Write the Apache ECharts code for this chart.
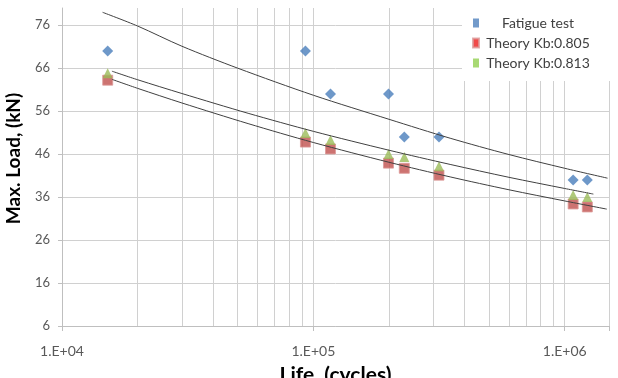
<!DOCTYPE html>
<html>
<head>
<meta charset="utf-8">
<script src="https://cdn.jsdelivr.net/npm/echarts@6/dist/echarts.min.js"></script>
<style>
  html, body { margin: 0; padding: 0; background: #fff; }
  #chart { width: 618px; height: 378px; }
</style>
</head>
<body>
<div id="chart"></div>
<script>
// test points (cycles, kN)
const lifeCycles = [15200, 93000, 117000, 199000, 230000, 316000, 1080000, 1230000]
const fatigueTest = [70, 70, 60, 60, 50, 50, 40, 40]
const theory805 = [63.2, 48.8, 47.2, 43.9, 42.7, 41.1, 34.4, 33.7]
const theory813 = [64.8, 50.9, 49.3, 46.0, 45.3, 43.2, 36.5, 36.0]

// trend lines
const trendFatigueN = [14500, 20000, 30000, 50000, 100000, 200000, 350000, 600000, 1000000, 1480000]
const trendFatigue = [79.0, 75.8, 71.1, 66.0, 59.7, 54.1, 49.7, 45.9, 42.7, 40.4]
const trend813N = [15800, 20000, 30000, 55000, 100000, 200000, 350000, 600000, 1000000, 1300000]
const trend813 = [65.3, 63.3, 60.1, 55.5, 51.3, 46.9, 43.6, 40.6, 38.0, 36.7]
const trend805N = [15800, 20000, 30000, 55000, 100000, 200000, 350000, 600000, 1000000, 1470000]
const trend805 = [63.4, 61.3, 57.9, 53.1, 48.7, 44.1, 40.7, 37.7, 35.1, 33.2]

// minor log gridlines
const minorLines = [20000, 30000, 40000, 50000, 60000, 70000, 80000, 90000,
  200000, 300000, 400000, 500000, 600000, 700000, 800000, 900000]

const yMin = 6
const yMax = 80
const yStep = 10

const pairs = (xs, ys) => xs.map((x, i) => [x, ys[i]])
const gridGrey = '#d0d0d0'

const myChart = echarts.init(document.getElementById('chart'))

const option = {
  animation: false,
  textStyle: { fontFamily: 'Lato' },
  grid: { left: 62, right: 9, top: 8, bottom: 52, outerBoundsMode: 'none', containLabel: false },
  legend: {
    orient: 'vertical',
    left: 462,
    top: 0,
    z: 10,
    padding: [16, 26, 11, 10],
    backgroundColor: '#fff',
    itemWidth: 6,
    itemHeight: 9,
    itemGap: 6,
    icon: 'rect',
    formatter: name => '{a|' + name + '}',
    textStyle: {
      rich: {
        a: { width: 108, align: 'center', fontSize: 14, lineHeight: 14, color: '#404040', fontFamily: 'Lato' }
      }
    },
    data: [
      { name: 'Fatigue test', itemStyle: { color: '#4f81bd' } },
      { name: 'Theory Kb:0.805', itemStyle: { color: '#ee1c1c' } },
      { name: 'Theory Kb:0.813', itemStyle: { color: '#92d050' } }
    ]
  },
  xAxis: {
    type: 'log',
    logBase: 10,
    min: 10000,
    max: 1500000,
    name: 'Life, (cycles)',
    nameLocation: 'middle',
    nameGap: 39,
    nameTextStyle: { fontSize: 21, fontWeight: 'bold', color: '#000', fontFamily: 'Lato' },
    axisLine: { lineStyle: { color: '#bfbfbf' } },
    axisTick: { length: 5, lineStyle: { color: '#bfbfbf' } },
    axisLabel: {
      margin: 18,
      fontSize: 14,
      color: '#595959',
      formatter: v => {
        const e = Math.log10(v)
        if (Math.abs(e - Math.round(e)) > 1e-6) return ''
        return '1.E+' + String(Math.round(e)).padStart(2, '0')
      }
    },
    splitLine: { show: true, lineStyle: { color: gridGrey } }
  },
  yAxis: {
    type: 'value',
    min: yMin,
    max: yMax,
    interval: yStep,
    name: 'Max. Load, (kN)',
    nameLocation: 'middle',
    nameGap: 39,
    nameTextStyle: { fontSize: 19, fontWeight: 'bold', color: '#000', fontFamily: 'Lato', padding: [0, 0, 0, 17] },
    axisLine: { show: true, lineStyle: { color: '#bfbfbf' } },
    axisTick: { show: true, length: 4, lineStyle: { color: '#bfbfbf' } },
    axisLabel: { margin: 12, fontSize: 13, color: '#595959', showMaxLabel: false },
    splitLine: {
      lineStyle: {
        color: [gridGrey, gridGrey, gridGrey, gridGrey, gridGrey, gridGrey, gridGrey, gridGrey, 'rgba(0,0,0,0)']
      }
    }
  },
  series: [
    {
      name: 'minor grid',
      type: 'line',
      data: [],
      z: 1,
      silent: true,
      markLine: {
        z: 1,
        silent: true,
        symbol: ['none', 'none'],
        label: { show: false },
        lineStyle: { color: gridGrey, type: 'solid', width: 1 },
        data: minorLines.map(v => ({ xAxis: v }))
      }
    },
    {
      name: 'trend fatigue',
      type: 'line',
      data: pairs(trendFatigueN, trendFatigue),
      smooth: 0.3,
      showSymbol: false,
      silent: true,
      z: 3,
      lineStyle: { color: '#404040', width: 1 }
    },
    {
      name: 'trend 0.813',
      type: 'line',
      data: pairs(trend813N, trend813),
      smooth: 0.3,
      showSymbol: false,
      silent: true,
      z: 3,
      lineStyle: { color: '#404040', width: 1 }
    },
    {
      name: 'trend 0.805',
      type: 'line',
      data: pairs(trend805N, trend805),
      smooth: 0.3,
      showSymbol: false,
      silent: true,
      z: 3,
      lineStyle: { color: '#404040', width: 1 }
    },
    {
      name: 'Fatigue test',
      type: 'scatter',
      symbol: 'diamond',
      symbolSize: 11,
      z: 2,
      itemStyle: { color: '#4a7ebb' },
      data: pairs(lifeCycles, fatigueTest)
    },
    {
      name: 'Theory Kb:0.805',
      type: 'scatter',
      symbol: 'rect',
      symbolSize: 10,
      z: 2,
      itemStyle: { color: '#c0504d', borderColor: '#dc9a98', borderWidth: 1 },
      data: pairs(lifeCycles, theory805)
    },
    {
      name: 'Theory Kb:0.813',
      type: 'scatter',
      symbol: 'triangle',
      symbolSize: 10,
      z: 2,
      itemStyle: { color: '#9bbb59' },
      data: pairs(lifeCycles, theory813)
    }
  ]
}

myChart.setOption(option)
window.addEventListener('resize', function() {
  myChart.resize()
})
</script>
</body>
</html>
